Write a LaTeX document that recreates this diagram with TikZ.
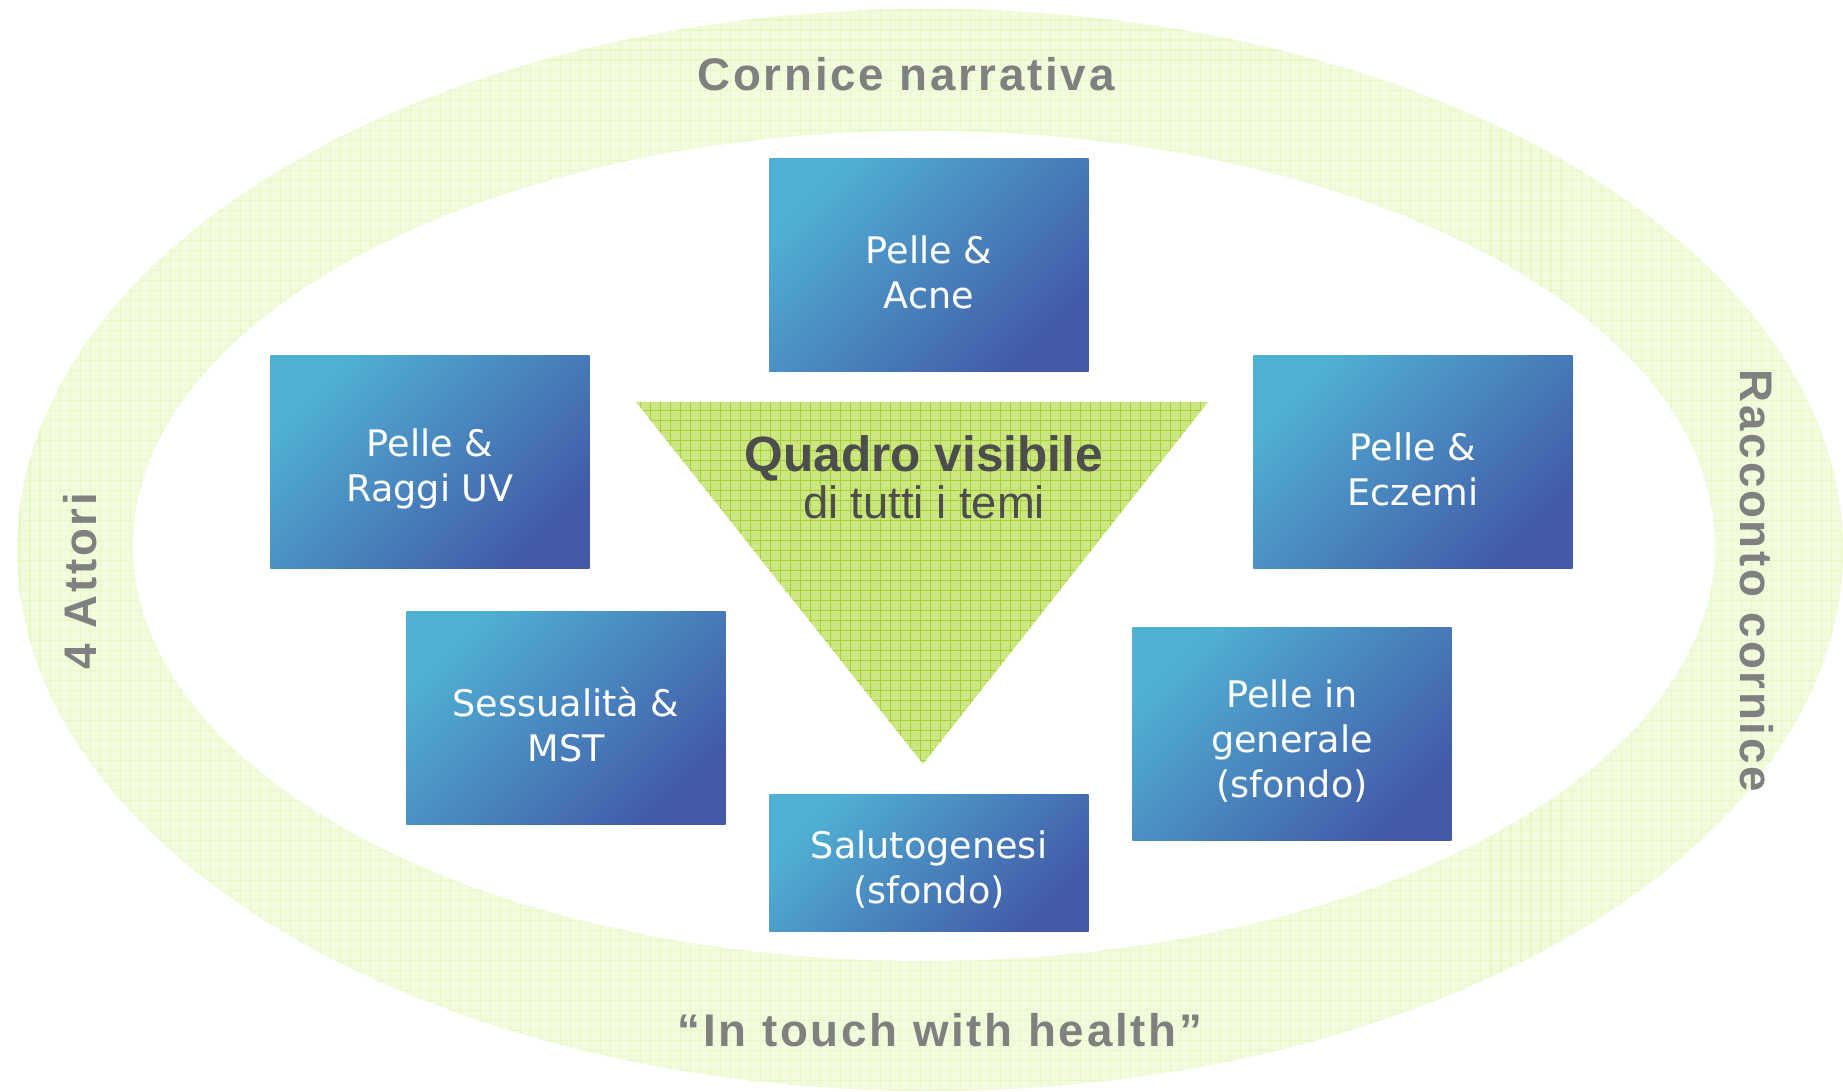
\documentclass[tikz,border=0pt]{standalone}
\usepackage{fontspec}
\usepackage{xcolor}
\setmainfont{DejaVu Sans}
\newfontfamily\cornicefont[LetterSpace=6]{Liberation Sans}
\newfontfamily\quadrofont{Liberation Sans}

\definecolor{ringgreen}{RGB}{243,251,222}
\definecolor{ringgrid}{RGB}{232,248,196}
\definecolor{trigreen}{RGB}{203,230,130}
\definecolor{trigrid}{RGB}{165,210,50}
\definecolor{boxtop}{RGB}{80,176,212}
\definecolor{boxbottom}{RGB}{66,90,168}
\definecolor{labelgray}{RGB}{128,128,128}
\definecolor{titlegray}{RGB}{77,77,77}

\tikzset{
    tema/.style={shading=axis, top color=boxtop, bottom color=boxbottom,
        shading angle=45, minimum width=3.19cm, minimum height=2.13cm,
        inner sep=0pt},
    tematext/.style={align=center, text=white, yshift=-0.07cm,
        font=\fontsize{10.4}{12.8}\selectfont},
    cornice/.style={text=labelgray, anchor=base,
        font=\cornicefont\bfseries\fontsize{13}{15}\selectfont}
}

\begin{document}
\begin{tikzpicture}[x=0.01cm, y=-0.01cm]
    \useasboundingbox (0,0) rectangle (1843,1092);

    % ring
    \fill[ringgreen] (930,550) ellipse [x radius=913, y radius=541];
    \begin{scope}
        \clip (930,550) ellipse [x radius=913, y radius=541];
        \draw[ringgrid, line width=0.3pt, step=0.1cm] (0,0) grid (1843,1092);
    \end{scope}
    \fill[white] (924,546) ellipse [x radius=791, y radius=415];

    \node[cornice] (narrativa) at (906,91) {Cornice narrativa};
    \node[cornice] (health) at (940,1046) {“In touch with health”};
    \node[cornice, rotate=90] (attori) at (97,581) {4 Attori};
    \node[cornice, rotate=-90] (racconto) at (1740,581) {Racconto cornice};

    % triangle
    \fill[trigreen] (636,402) -- (1208,402) -- (923,764) -- cycle;
    \begin{scope}
        \clip (636,402) -- (1208,402) -- (923,764) -- cycle;
        \draw[trigrid, line width=0.3pt, step=0.1cm] (630,400) grid (1210,770);
    \end{scope}
    \node[text=titlegray, anchor=base, font=\quadrofont\bfseries\fontsize{14.1}{16}\selectfont]
        (quadro) at (924,472) {Quadro visibile};
    \node[text=titlegray, anchor=base, font=\quadrofont\fontsize{12.9}{15}\selectfont]
        (temi) at (924,519) {di tutti i temi};

    % themes
    \node[tema, label={[tematext]center:Pelle \&\\Acne}] (acne) at (929,265) {};
    \node[tema, label={[tematext]center:Pelle \&\\Raggi UV}] (raggi) at (430,462) {};
    \node[tema, label={[tematext]center:Pelle \&\\Eczemi}] (eczemi) at (1413,462) {};
    \node[tema, label={[tematext]center:Sessualità \&\\MST}] (mst) at (566,718) {};
    \node[tema, label={[tematext]center:Pelle in\\generale\\(sfondo)}] (generale) at (1292,734) {};
    \node[tema, minimum height=1.37cm,
        label={[tematext]center:Salutogenesi\\(sfondo)}] (saluto) at (929,863) {};
\end{tikzpicture}
\end{document}
